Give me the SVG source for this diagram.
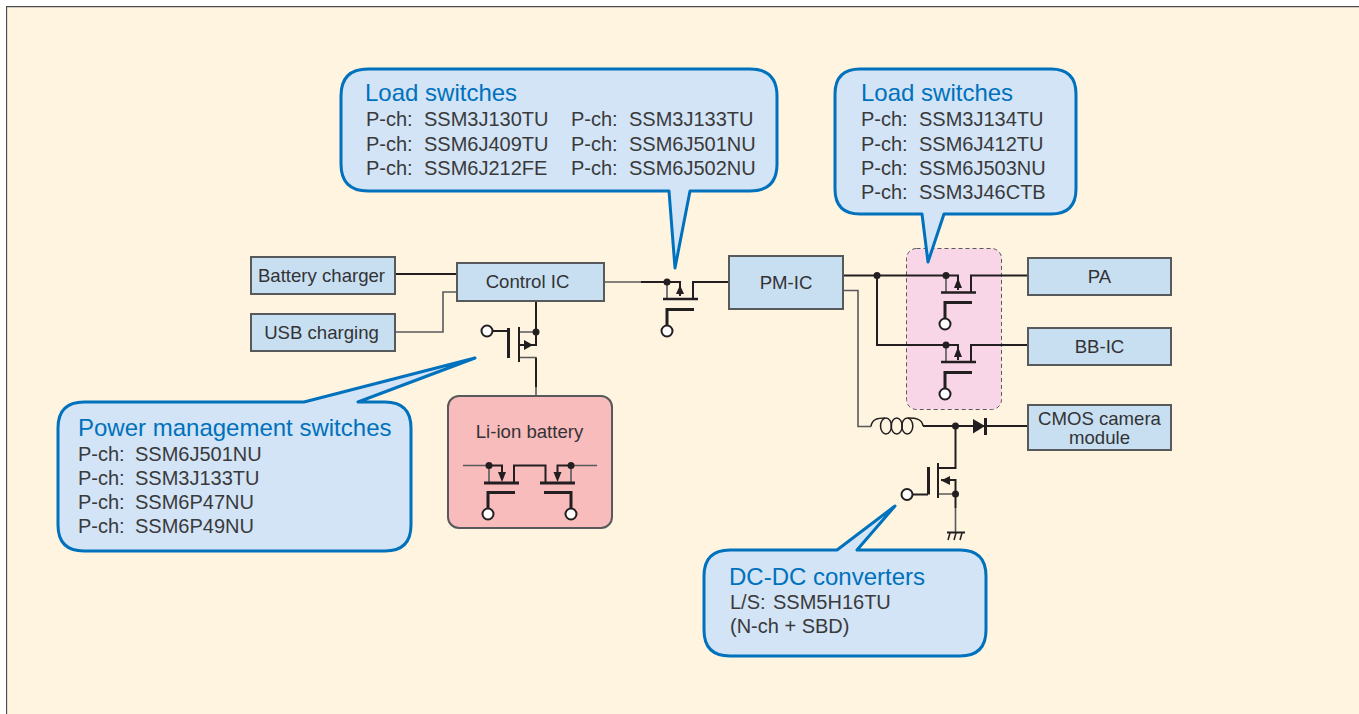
<svg xmlns="http://www.w3.org/2000/svg" width="1359" height="714" viewBox="0 0 1359 714">
<style>
text{font-family:"Liberation Sans",Arial,sans-serif;fill:#333335}
.t{font-size:18.6px;text-anchor:middle}
.h{font-size:24px;fill:#0071bc}
.l{font-size:20px;fill:#3a3a3c}
.box{fill:#c8dff2;stroke:#58595b;stroke-width:2}
.callout{fill:#d2e4f5;stroke:#0071bc;stroke-width:3;stroke-linejoin:round}
.w{fill:none;stroke:#231f20;stroke-width:2}
.g{fill:none;stroke:#58595b;stroke-width:1.600}
.b{fill:none;stroke:#231f20;stroke-width:3}
.c{fill:none;stroke:#231f20;stroke-width:1.500}
.d{fill:#231f20}
.o{fill:#fff;stroke:#231f20;stroke-width:2}
</style>
<rect width="1359" height="714" fill="#fef4e0"/>
<path d="M6.500 714V6.500H1359" fill="none" stroke="#4d4d4f" stroke-width="1.300"/>
<rect x="0" y="0" width="6" height="714" fill="#fff"/><rect x="0" y="0" width="1359" height="6" fill="#fff"/>
<g id="li-ion-battery">
<rect x="448" y="396" width="164" height="132" rx="11" fill="#f9bcbc" stroke="#58595b" stroke-width="2"/>
<text x="529.500" y="438" class="t">Li-ion battery</text>
<path class="g" d="M463 465.500H489V483M540 483H540M571 465.500H597M571 465.500V483"/>
<path class="w" d="M489 465.500H502V474M514 483V465.500H545.500V483M557.500 474V465.500H571"/>
<path class="b" d="M484 483H519M540 483H575M515 492.500H488V514M544 492.500H571V514"/>
<circle class="d" cx="489" cy="465.500" r="3.500"/><circle class="d" cx="571" cy="465.500" r="3.500"/>
<path class="d" d="M498 472H506L502 482ZM553.500 472H561.500L557.500 482Z"/>
<circle class="o" cx="488" cy="514" r="5.500"/><circle class="o" cx="571" cy="514" r="5.500"/>
</g>
<g id="load-zone"><rect x="906.500" y="248.500" width="95" height="161" rx="10" fill="#f9d5e8" stroke="#58595b" stroke-width="1" stroke-dasharray="4 3"/></g>
<g id="connectors">
<path class="w" d="M395 274H457"/>
<path class="g" d="M395 332H443V292H457"/>
<path class="g" d="M604 282H641"/>
<path class="w" d="M641 282H680V296M693 298V282H729"/>
<path class="g" d="M667 282V298"/>
<path class="w" d="M536 302V345H519"/>
<path class="g" d="M519 332H536M519 357.500H536V362M536 387V396"/>
<path class="w" d="M536 358V387"/>
<path class="w" d="M843 275.500H958V290M971 292V275.500H1028"/>
<path class="g" d="M946 275.500V292M946 345V362"/>
<path class="w" d="M877 275.500V345H958V360M971 362V345H1028"/>
<path class="g" d="M843 290.500H858V426.500H871"/>
<path class="w" d="M923 426H1028"/>
<path class="w" d="M955.500 426V468H938M941 480H955.500V508"/>
<path class="g" d="M938 494H955.500M955.500 508V532"/>
</g>
<g id="mosfets">
<path class="b" d="M663 299H698" style="stroke-width:2.500"/><path class="b" d="M694 309.500H667V331"/>
<circle class="d" cx="667" cy="282" r="3.500"/><path class="d" d="M680 285L684 294H676Z"/>
<circle class="o" cx="667" cy="331" r="5.500"/>
<path class="b" d="M508.500 328V358"/><path class="w" d="M519 327V362M487 331H508"/>
<circle class="d" cx="536" cy="332" r="3.500"/><path class="d" d="M524 340V350L533 345Z"/>
<circle class="o" cx="487" cy="331" r="5.500"/>
<path class="b" d="M941 292.500H976M941 362H976" style="stroke-width:2.500"/>
<circle class="d" cx="946" cy="275.500" r="3.500"/><circle class="d" cx="946" cy="345" r="3.500"/><circle class="d" cx="877" cy="275.500" r="3.500"/>
<path class="d" d="M958 278L962 288H954ZM958 347L962 357H954Z"/>
<path class="b" d="M972 302.500H945V324M972 372.500H945V394"/>
<circle class="o" cx="945" cy="324" r="5.500"/><circle class="o" cx="945" cy="394" r="5.500"/>
<path class="c" d="M871 426.500C872 419 878 418 885 418M908 418C916 418 922 419 923 426"/>
<ellipse class="c" cx="886" cy="426" rx="5.500" ry="8"/><ellipse class="c" cx="896.700" cy="426" rx="5.500" ry="8"/><ellipse class="c" cx="907.300" cy="426" rx="5.500" ry="8"/>
<circle class="d" cx="955.500" cy="426" r="3.500"/>
<path class="d" d="M973 419V433.500L985 426Z"/><path class="b" d="M985.500 418V435"/>
<path class="b" d="M928.500 467V494.500"/><path class="w" d="M938 463V498M907 494.500H928"/>
<circle class="d" cx="955.500" cy="494" r="3.500"/><path class="d" d="M941 480.500L950 476V485Z"/>
<circle class="o" cx="907" cy="494.500" r="5.500"/>
<path class="c" d="M950 533L948 540M956 533L954 540M962 533L960 540"/><path class="w" d="M947 532.500H965"/>
</g>
<g id="battery-charger"><rect class="box" x="251" y="257" width="144" height="37"/><text x="321.500" y="282" class="t">Battery charger</text></g>
<g id="usb-charging"><rect class="box" x="251" y="314" width="144" height="37"/><text x="321.500" y="339" class="t">USB charging</text></g>
<g id="control-ic"><rect class="box" x="457" y="263" width="147" height="38"/><text x="527.500" y="288" class="t">Control IC</text></g>
<g id="pm-ic"><rect class="box" x="729" y="256" width="114" height="53"/><text x="786" y="289" class="t">PM-IC</text></g>
<g id="pa"><rect class="box" x="1028" y="258" width="143" height="37"/><text x="1099.500" y="283" class="t">PA</text></g>
<g id="bb-ic"><rect class="box" x="1028" y="328" width="143" height="37"/><text x="1099.500" y="353" class="t">BB-IC</text></g>
<g id="cmos-camera"><rect class="box" x="1028" y="405" width="143" height="45"/><text x="1099.500" y="425" class="t">CMOS camera</text><text x="1099.500" y="444" class="t">module</text></g>
<g id="callout-load-1">
<path class="callout" d="M368 69H750Q777 69 777 96V164Q777 191 750 191H690L675 268L669 191H368Q341 191 341 164V96Q341 69 368 69Z"/>
<text x="365" y="101" class="h">Load switches</text>
<text y="126" class="l"><tspan x="366">P-ch:</tspan><tspan x="424">SSM3J130TU</tspan></text><text y="151" class="l"><tspan x="366">P-ch:</tspan><tspan x="424">SSM6J409TU</tspan></text><text y="175" class="l"><tspan x="366">P-ch:</tspan><tspan x="424">SSM6J212FE</tspan></text>
<text y="126" class="l"><tspan x="571">P-ch:</tspan><tspan x="629">SSM3J133TU</tspan></text><text y="151" class="l"><tspan x="571">P-ch:</tspan><tspan x="629">SSM6J501NU</tspan></text><text y="175" class="l"><tspan x="571">P-ch:</tspan><tspan x="629">SSM6J502NU</tspan></text>
</g>
<g id="callout-load-2">
<path class="callout" d="M860 69H1051Q1076 69 1076 94V189Q1076 214 1051 214H944L928 262L922 214H860Q835 214 835 189V94Q835 69 860 69Z"/>
<text x="861" y="101" class="h">Load switches</text>
<text y="126" class="l"><tspan x="861">P-ch:</tspan><tspan x="919">SSM3J134TU</tspan></text><text y="151" class="l"><tspan x="861">P-ch:</tspan><tspan x="919">SSM6J412TU</tspan></text><text y="175" class="l"><tspan x="861">P-ch:</tspan><tspan x="919">SSM6J503NU</tspan></text><text y="199" class="l"><tspan x="861">P-ch:</tspan><tspan x="919">SSM3J46CTB</tspan></text>
</g>
<g id="callout-power">
<path class="callout" d="M84 402H304L475 358L358 402H385Q411 402 411 428V525Q411 551 385 551H84Q58 551 58 525V428Q58 402 84 402Z"/>
<text x="78" y="436" class="h">Power management switches</text>
<text y="461" class="l"><tspan x="78">P-ch:</tspan><tspan x="135">SSM6J501NU</tspan></text><text y="485" class="l"><tspan x="78">P-ch:</tspan><tspan x="135">SSM3J133TU</tspan></text><text y="509" class="l"><tspan x="78">P-ch:</tspan><tspan x="135">SSM6P47NU</tspan></text><text y="533" class="l"><tspan x="78">P-ch:</tspan><tspan x="135">SSM6P49NU</tspan></text>
</g>
<g id="callout-dcdc">
<path class="callout" d="M730 550H837L895 506L857 550H960Q986 550 986 576V630Q986 656 960 656H730Q704 656 704 630V576Q704 550 730 550Z"/>
<text x="729" y="585" class="h">DC-DC converters</text>
<text y="609" class="l"><tspan x="730">L/S:</tspan><tspan x="773">SSM5H16TU</tspan></text><text x="730" y="633" class="l">(N-ch + SBD)</text>
</g>
</svg>
